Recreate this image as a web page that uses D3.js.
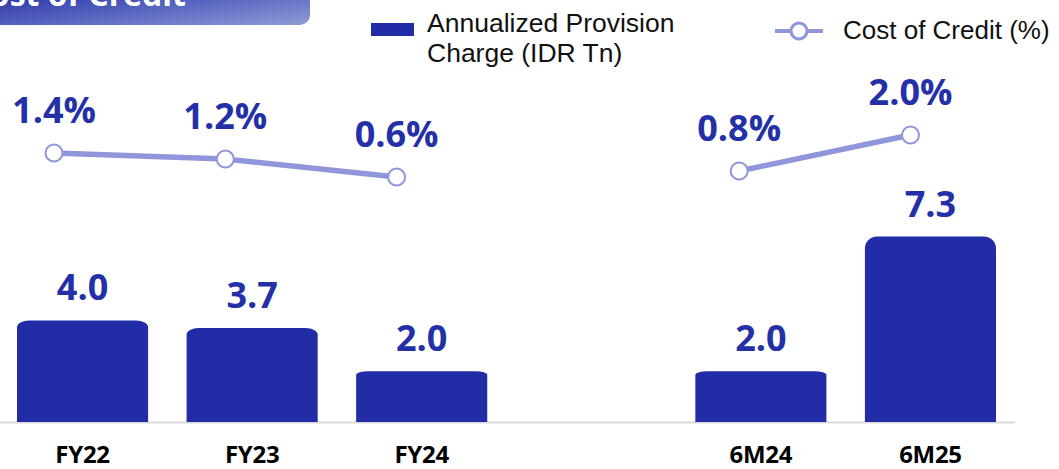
<!DOCTYPE html>
<html>
<head>
<meta charset="utf-8">
<script src="https://cdn.jsdelivr.net/npm/d3@7"></script>
<style>
  html, body { margin: 0; padding: 0; background: #ffffff; }
  svg { display: block; }
</style>
</head>
<body>
<svg id="chart" width="1059" height="469"></svg>
<script>
// Provision charge (IDR Tn) and cost of credit (%) by period
const categories = ["FY22", "FY23", "FY24", "6M24", "6M25"];
const provisionCharge = [4.0, 3.7, 2.0, 2.0, 7.3];
const costOfCredit = [1.4, 1.2, 0.6, 0.8, 2.0];
const chargeLabels = ["4.0", "3.7", "2.0", "2.0", "7.3"];
const cocLabels = ["1.4%", "1.2%", "0.6%", "0.8%", "2.0%"];
const legendLabels = [["Annualized Provision", "Charge (IDR Tn)"], ["Cost of Credit (%)"]];
const titleText = "Cost of Credit";

const BAR = "#212ca6";
const LABEL = "#2330a8";
const LINE = "#9096dc";

const svg = d3.select("#chart");

// Full-year periods, an empty slot, then half-year periods
const GAP = "__gap";
const slots = [...categories.slice(0, 3), GAP, ...categories.slice(3)];
const rows = categories.map((c, i) => ({
  cat: c, charge: provisionCharge[i], coc: costOfCredit[i],
  chargeLabel: chargeLabels[i], cocLabel: cocLabels[i], group: i < 3 ? 0 : 1
}));

const x = d3.scaleBand().domain(slots).range([17, 996]).paddingInner(0.227).paddingOuter(0);
const xLine = d3.scalePoint().domain(slots).range([54, 910.5]);
const y = d3.scaleLinear().domain([0, 7.3]).range([422, 236.6]);
const yLine = d3.scaleLinear().domain([0, 2]).range([195, 135]);

// Title banner
const defs = svg.append("defs");
const grad = defs.append("linearGradient").attr("id", "titleGrad")
  .attr("x1", "0%").attr("y1", "0%").attr("x2", "100%").attr("y2", "100%");
grad.append("stop").attr("offset", "0%").attr("stop-color", "#191e9a");
grad.append("stop").attr("offset", "55%").attr("stop-color", "#5462bf");
grad.append("stop").attr("offset", "100%").attr("stop-color", "#8e9dd6");
svg.append("path")
  .attr("d", "M-20,-20 H310 V15 A10,10 0 0 1 300,25 H-20 Z")
  .attr("fill", "url(#titleGrad)");
svg.append("text")
  .attr("x", 186).attr("y", 6)
  .attr("text-anchor", "end")
  .attr("font-family", "'Open Sans', sans-serif")
  .attr("font-weight", 700)
  .attr("font-size", 32)
  .attr("fill", "#ffffff")
  .text(titleText);

// Baseline
svg.append("line")
  .attr("x1", 0).attr("x2", 1015)
  .attr("y1", y(0) + 0.5).attr("y2", y(0) + 0.5)
  .attr("stroke", "#d9d9d9").attr("stroke-width", 2);

// Bars with rounded tops
function barPath(d) {
  const x0 = x(d.cat), w = x.bandwidth();
  const top = y(d.charge), base = y(0);
  const h = base - top;
  const rx = 12, ry = Math.min(12, h * 0.07);
  return `M${x0},${base} V${top + ry} A${rx},${ry} 0 0 1 ${x0 + rx},${top}` +
    ` H${x0 + w - rx} A${rx},${ry} 0 0 1 ${x0 + w},${top + ry} V${base} Z`;
}
svg.append("g").selectAll("path").data(rows).join("path")
  .attr("d", barPath)
  .attr("fill", BAR);

// Bar value labels
svg.append("g").selectAll("text").data(rows).join("text")
  .attr("x", d => x(d.cat) + x.bandwidth() / 2)
  .attr("y", d => y(d.charge) - 20)
  .attr("text-anchor", "middle")
  .attr("font-family", "'Open Sans', sans-serif")
  .attr("font-weight", 700)
  .attr("font-size", 36)
  .attr("fill", LABEL)
  .text(d => d.chargeLabel);

// Category axis labels
svg.append("g").selectAll("text").data(rows).join("text")
  .attr("x", d => x(d.cat) + x.bandwidth() / 2)
  .attr("y", 463)
  .attr("text-anchor", "middle")
  .attr("font-family", "'Open Sans', sans-serif")
  .attr("font-weight", 700)
  .attr("font-size", 24)
  .attr("letter-spacing", -0.3)
  .attr("fill", "#000000")
  .text(d => d.cat);

// Cost of credit lines, one per period group
const lineGen = d3.line().x(d => xLine(d.cat)).y(d => yLine(d.coc));
const groups = d3.groups(rows, d => d.group).map(g => g[1]);
svg.append("g").selectAll("path").data(groups).join("path")
  .attr("d", lineGen)
  .attr("fill", "none")
  .attr("stroke", LINE)
  .attr("stroke-width", 5.5)
  .attr("stroke-linecap", "round");
svg.append("g").selectAll("circle").data(rows).join("circle")
  .attr("cx", d => xLine(d.cat))
  .attr("cy", d => yLine(d.coc))
  .attr("r", 8.5)
  .attr("fill", "#ffffff")
  .attr("stroke", LINE)
  .attr("stroke-width", 2);
svg.append("g").selectAll("text").data(rows).join("text")
  .attr("x", d => xLine(d.cat))
  .attr("y", d => yLine(d.coc) - 30)
  .attr("text-anchor", "middle")
  .attr("font-family", "'Open Sans', sans-serif")
  .attr("font-weight", 700)
  .attr("font-size", 36)
  .attr("fill", LABEL)
  .text(d => d.cocLabel);

// Legend
const LEGEND_FONT = "'Liberation Sans Narrow', 'Arial Narrow', sans-serif";
const lg = svg.append("g");
lg.append("rect").attr("x", 371).attr("y", 23).attr("width", 43).attr("height", 13).attr("fill", BAR);
lg.append("text")
  .attr("font-family", LEGEND_FONT).attr("font-size", 26.5).attr("fill", "#111111")
  .selectAll("tspan").data(legendLabels[0]).join("tspan")
  .attr("x", 427).attr("y", (d, i) => 32 + i * 30)
  .text(d => d);
lg.append("line").attr("x1", 775).attr("x2", 823).attr("y1", 31).attr("y2", 31)
  .attr("stroke", LINE).attr("stroke-width", 4);
lg.append("circle").attr("cx", 799).attr("cy", 31).attr("r", 8)
  .attr("fill", "#ffffff").attr("stroke", LINE).attr("stroke-width", 3);
lg.append("text")
  .attr("x", 843).attr("y", 39)
  .attr("font-family", LEGEND_FONT).attr("font-size", 26).attr("fill", "#111111")
  .text(legendLabels[1][0]);
</script>
</body>
</html>
